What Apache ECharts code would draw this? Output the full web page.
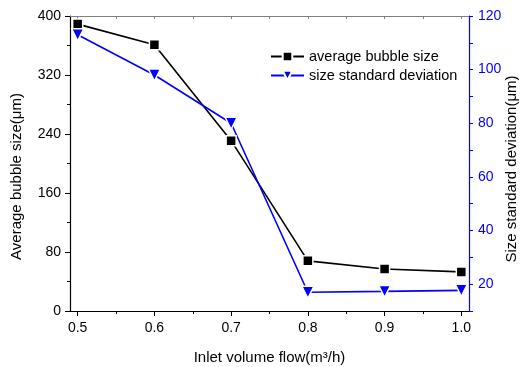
<!DOCTYPE html>
<html>
<head>
<meta charset="utf-8">
<script src="https://cdn.jsdelivr.net/npm/echarts@6/dist/echarts.min.js"></script>
<style>html,body{margin:0;padding:0;background:#fff;}#c{width:520px;height:367px;}</style>
</head>
<body>
<div id="c"></div>
<script>
const inletFlow = [0.5, 0.6, 0.7, 0.8, 0.9, 1.0];
const avgBubbleSize = [389, 361, 231, 68, 57, 53];
const sizeStdDev = [113, 98, 80, 17, 17.3, 17.7];
const xMajorTicks = [0.5, 0.6, 0.7, 0.8, 0.9, 1.0];
const xMinorTicks = [0.55, 0.65, 0.75, 0.85, 0.95];
const xTopTicks = [0.5, 0.55, 0.6, 0.65, 0.7, 0.75, 0.8, 0.85, 0.9, 0.95, 1.0];
const rightLabels = [20, 40, 60, 80, 100, 120];

const FONT = 'Liberation Sans, Arial, sans-serif';
const chart = echarts.init(document.getElementById('c'), null, {renderer: 'canvas'});
const grid = {left: 70, right: 51, top: 16, bottom: 56, containLabel: false, outerBoundsMode: 'none'};
chart.setOption({
  animation: false,
  backgroundColor: '#fff',
  grid: grid,
  legend: {
    orient: 'vertical', left: 265, top: 44, itemWidth: 33, itemHeight: 12, itemGap: 4,
    textStyle: {fontFamily: FONT, fontSize: 14.5, color: '#000'},
    data: ['average bubble size', 'size standard deviation']
  },
  xAxis: [{
    type: 'value', min: 0.49, max: 1.01, position: 'bottom',
    name: 'Inlet volume flow(m³/h)', nameLocation: 'middle', nameGap: 39, nameMoveOverlap: false,
    nameTextStyle: {fontFamily: FONT, fontSize: 15, color: '#000'},
    axisLine: {show: true, onZero: false, lineStyle: {color: '#000', width: 1.2}},
    axisTick: {show: true, customValues: xMajorTicks, length: 5, lineStyle: {color: '#000'}},
    axisLabel: {customValues: xMajorTicks, formatter: v => v.toFixed(1), fontFamily: FONT, fontSize: 14, color: '#000', margin: 10},
    splitLine: {show: false}
  }, {
    type: 'value', min: 0.49, max: 1.01, position: 'bottom',
    axisLine: {show: false},
    axisTick: {show: true, customValues: xMinorTicks, length: 3, lineStyle: {color: '#000'}},
    axisLabel: {show: false}, splitLine: {show: false}
  }, {
    type: 'value', min: 0.49, max: 1.01, position: 'top',
    axisLine: {show: true, onZero: false, lineStyle: {color: '#808080', width: 1.2}},
    axisTick: {show: true, inside: true, customValues: xTopTicks, length: 3, lineStyle: {color: '#808080'}},
    axisLabel: {show: false}, splitLine: {show: false}
  }],
  yAxis: [{
    type: 'value', min: 0, max: 400, interval: 80, position: 'left',
    name: 'Average bubble size(μm)', nameLocation: 'middle', nameRotate: 90, nameGap: 46, nameMoveOverlap: false,
    nameTextStyle: {fontFamily: FONT, fontSize: 15, color: '#000', padding: [0, 26, 0, 0]},
    axisLine: {show: true, onZero: false, lineStyle: {color: '#000', width: 1.2}},
    axisTick: {show: true, length: 5, lineStyle: {color: '#000'}},
    minorTick: {show: true, splitNumber: 2, length: 3, lineStyle: {color: '#000'}},
    axisLabel: {fontFamily: FONT, fontSize: 14, color: '#000', margin: 9},
    splitLine: {show: false}
  }, {
    type: 'value', min: 10, max: 120, interval: 10, position: 'right',
    name: 'Size standard deviation(μm)', nameLocation: 'middle', nameRotate: 90, nameGap: 35, nameMoveOverlap: false,
    nameTextStyle: {fontFamily: FONT, fontSize: 15, color: '#000', padding: [0, 11, 0, 0]},
    axisLine: {show: true, onZero: false, lineStyle: {color: '#0000ff', width: 1.2}},
    axisTick: {show: true, length: 4, lineStyle: {color: '#0000ff'}},
    axisLabel: {formatter: v => (rightLabels.indexOf(v) >= 0 ? String(v) : ''), fontFamily: FONT, fontSize: 14, color: '#0000ff', margin: 9},
    splitLine: {show: false}
  }],
  series: [{
    name: 'average bubble size', type: 'line', xAxisIndex: 0, yAxisIndex: 0,
    data: inletFlow.map((x, i) => [x, avgBubbleSize[i]]),
    symbol: 'rect', symbolSize: 10,
    lineStyle: {color: '#000', width: 1.6},
    itemStyle: {color: '#000', borderColor: '#fff', borderWidth: 1.5}
  }, {
    name: 'size standard deviation', type: 'line', xAxisIndex: 0, yAxisIndex: 1,
    data: inletFlow.map((x, i) => [x, sizeStdDev[i]]),
    symbol: 'triangle', symbolRotate: 180, symbolSize: 12,
    lineStyle: {color: '#0000ff', width: 1.6},
    itemStyle: {color: '#0000ff', borderColor: '#fff', borderWidth: 1.5}
  }]
});
</script>
</body>
</html>
